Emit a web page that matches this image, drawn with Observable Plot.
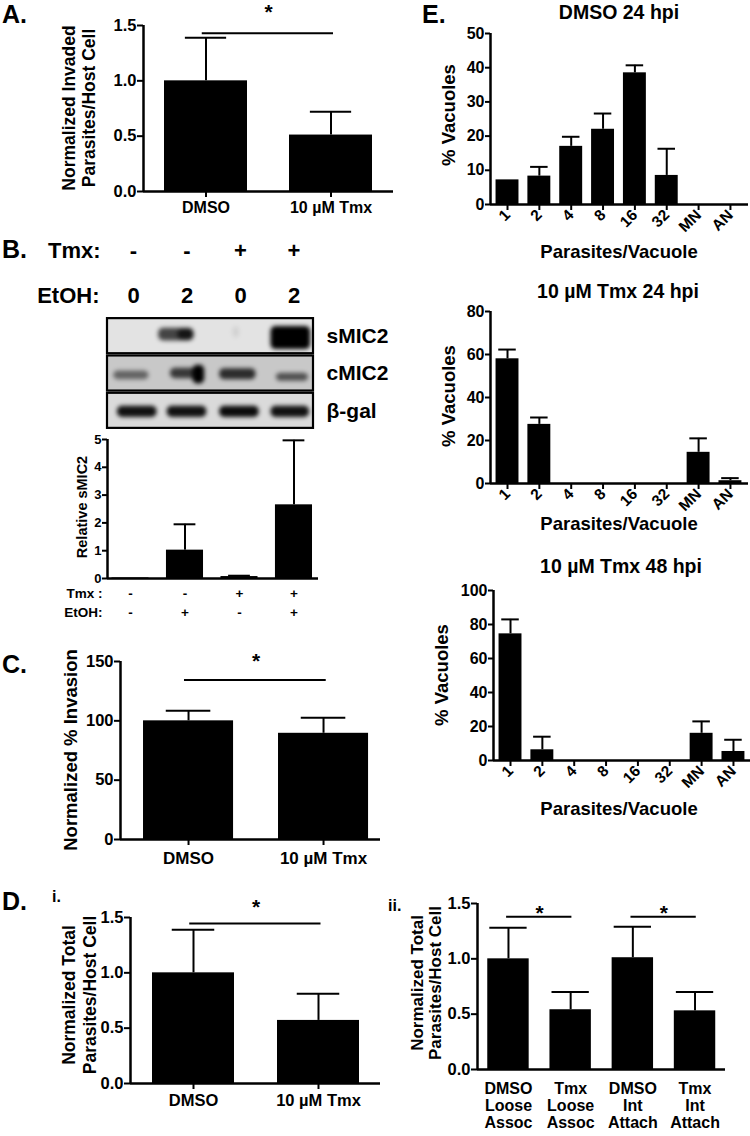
<!DOCTYPE html>
<html><head><meta charset="utf-8">
<script src="https://cdn.jsdelivr.net/npm/d3@7"></script>
<script src="https://cdn.jsdelivr.net/npm/@observablehq/plot@0.6"></script>
<style>
body{margin:0;background:#fff;}
#fig{position:relative;width:750px;height:1136px;overflow:hidden;background:#fff;}
#fig svg{position:absolute;overflow:visible;}
</style></head><body><div id="fig"></div>
<script>
const FONT = '"Liberation Sans", Arial, Helvetica, sans-serif';

// ---------- Panel A ----------
const aCats = ["DMSO", "10 µM Tmx"];
const aMeans = [1.0, 0.51];
const aUpper = [1.39, 0.72];
const aTicks = [0, 0.5, 1.0, 1.5];
const aSig = [{from: 0, to: 1, level: 1.43}];

// ---------- Panel B ----------
const bLanes = [0, 1, 2, 3];
const bTmx = ["-", "-", "+", "+"];
const bEtOH = ["0", "2", "0", "2"];
const bRows = ["sMIC2", "cMIC2", "β-gal"];
const bBands = [
  {row: "sMIC2", lane: 1, shift: -0.2, w: 0.66, h: 0.34, off: -0.04, a: 0.7},
  {row: "sMIC2", lane: 1, shift: -0.02, w: 0.3, h: 0.3, off: -0.04, a: 0.7},
  {row: "sMIC2", lane: 2, shift: -0.08, w: 0.12, h: 0.3, off: -0.1, a: 0.08},
  {row: "sMIC2", lane: 3, shift: -0.06, w: 0.74, h: 0.62, off: 0.05, a: 1},
  {row: "cMIC2", lane: 0, shift: -0.04, w: 0.66, h: 0.24, off: 0.05, a: 0.5},
  {row: "cMIC2", lane: 1, shift: -0.02, w: 0.58, h: 0.28, off: 0.0, a: 0.72},
  {row: "cMIC2", lane: 1, shift: 0.22, w: 0.22, h: 0.5, off: 0.03, a: 1},
  {row: "cMIC2", lane: 2, shift: -0.05, w: 0.68, h: 0.3, off: 0.02, a: 0.78},
  {row: "cMIC2", lane: 3, shift: -0.03, w: 0.6, h: 0.22, off: 0.1, a: 0.6},
  {row: "β-gal", lane: 0, shift: 0.07, w: 0.74, h: 0.3, off: 0.03, a: 0.92},
  {row: "β-gal", lane: 1, shift: 0.0, w: 0.74, h: 0.3, off: 0.03, a: 0.92},
  {row: "β-gal", lane: 2, shift: -0.02, w: 0.74, h: 0.3, off: 0.03, a: 0.95},
  {row: "β-gal", lane: 3, shift: -0.07, w: 0.72, h: 0.3, off: 0.03, a: 0.92}
];
const bRel = [0.02, 1.02, 0.07, 2.65];
const bRelUpper = [0.02, 1.95, 0.1, 4.97];
const bRelTmx = ["-", "-", "+", "+"];
const bRelEtOH = ["-", "+", "-", "+"];
const bTicks = [0, 1, 2, 3, 4, 5];

// ---------- Panel C ----------
const cCats = ["DMSO", "10 µM Tmx"];
const cMeans = [100, 89.5];
const cUpper = [108.5, 102.5];
const cTicks = [0, 50, 100, 150];
const cSig = [{from: 0, to: 1, level: 134.5}];

// ---------- Panel D ----------
const dCats = ["DMSO", "10 µM Tmx"];
const dMeans = [1.0, 0.57];
const dUpper = [1.39, 0.81];
const dTicks = [0, 0.5, 1.0, 1.5];
const dSig = [{from: 0, to: 1, level: 1.445}];
const d2Cats = ["DMSO\nLoose\nAssoc", "Tmx\nLoose\nAssoc", "DMSO\nInt\nAttach", "Tmx\nInt\nAttach"];
const d2Means = [1.0, 0.54, 1.01, 0.53];
const d2Upper = [1.28, 0.70, 1.29, 0.70];
const d2Sig = [{from: 0, to: 1, level: 1.38}, {from: 2, to: 3, level: 1.38}];

// ---------- Panel E ----------
const eCats = ["1", "2", "4", "8", "16", "32", "MN", "AN"];
const e1Means = [7.2, 8.3, 17, 22, 38.5, 8.5, 0, 0];
const e1Upper = [7.2, 11, 19.8, 26.6, 40.7, 16.3, 0, 0];
const e1Ticks = [0, 10, 20, 30, 40, 50];
const e2Means = [58, 27.5, 0, 0, 0, 0, 14.5, 1.3];
const e2Upper = [62.3, 30.7, 0, 0, 0, 0, 21, 2.5];
const e2Ticks = [0, 20, 40, 60, 80];
const e3Means = [74.5, 6.3, 0, 0, 0, 0, 16, 5.3];
const e3Upper = [83, 14, 0, 0, 0, 0, 23, 12.2];
const e3Ticks = [0, 20, 40, 60, 80, 100];

const fig = document.getElementById("fig");
const baseStyle = {fontFamily: FONT, fontWeight: "bold", fontSize: "15px", color: "#000", background: "none", overflow: "visible"};

function place(svg, left, top) {
  svg.style.left = left + "px";
  svg.style.top = top + "px";
  fig.appendChild(svg);
}

function barChart(o) {
  const rows = o.cats.map((c, i) => ({i, c, v: o.means[i], hi: o.upper[i]}));
  const [x0, x1, y0, y1] = o.area;
  const pad = {l: 60, r: 20, t: 40, b: 60};
  const err = rows.filter(d => d.hi > d.v);
  const marks = [
    Plot.rect(rows, {x1: d => d.i - o.barW / 2, x2: d => d.i + o.barW / 2, y1: 0, y2: "v", fill: "#000"}),
    Plot.ruleX(err, {x: "i", y1: "v", y2: "hi", stroke: "#000", strokeWidth: 2}),
    Plot.ruleY(err, {y: "hi", x1: d => d.i - o.capW / 2, x2: d => d.i + o.capW / 2, stroke: "#000", strokeWidth: 2}),
    Plot.ruleX([o.xDomain[0]], {stroke: "#000", strokeWidth: 2.5}),
    Plot.ruleY([0], {stroke: "#000", strokeWidth: 2.5}),
    Plot.axisY({ticks: o.yTicks, tickFormat: o.yFormat, tickSize: o.yTickSize ?? 6, tickPadding: 1,
      fontSize: o.yFont, fontWeight: "bold", strokeWidth: 2, label: null})
  ];
  if (o.xAxis) {
    marks.push(Plot.axisX({ticks: rows.map(d => d.i), tickFormat: i => o.cats[Math.round(i)],
      strokeWidth: 2, fontWeight: "bold", label: null, ...o.xAxis}));
  }
  if (o.sig) {
    marks.push(Plot.ruleY(o.sig, {y: "level", x1: d => d.from - 0.03, x2: d => d.to + 0.02, stroke: "#000", strokeWidth: 2}));
    marks.push(Plot.text(o.sig, {x: d => (d.from + d.to) / 2, y: "level", text: () => "*", fontSize: 21, fontWeight: "bold", dy: o.starDy}));
  }
  if (o.extra) marks.push(...o.extra);
  const H = Math.min(y1 - y0 + pad.t + pad.b, 1136 - (y0 - pad.t));
  const svg = Plot.plot({
    width: x1 - x0 + pad.l + pad.r, height: H,
    marginLeft: pad.l, marginRight: pad.r, marginTop: pad.t, marginBottom: H - (y1 - y0) - pad.t,
    x: {type: "linear", domain: o.xDomain, axis: null},
    y: {type: "linear", domain: o.yDomain, axis: null},
    style: baseStyle,
    marks
  });
  place(svg, x0 - pad.l, y0 - pad.t);
}

const f1 = d3.format(".1f"), fd = d3.format("d");

// A
barChart({cats: aCats, means: aMeans, upper: aUpper, area: [143, 393, 25, 191], xDomain: [-0.5, 1.5], yDomain: [0, 1.5],
  yTicks: aTicks, yFormat: f1, yFont: 16.5, barW: 0.664, capW: 0.33,
  xAxis: {tickSize: 6, tickPadding: 4, fontSize: 16}, sig: aSig, starDy: -21});

// B relative sMIC2
barChart({cats: bLanes.map(String), means: bRel, upper: bRelUpper, area: [107, 318, 439, 578], xDomain: [-0.422, 3.45], yDomain: [0, 5],
  yTicks: bTicks, yFormat: fd, yFont: 13, yTickSize: 5, barW: 0.68, capW: 0.4,
  extra: [
    Plot.text(bRelTmx, {x: (d, i) => i, text: d => d, frameAnchor: "bottom", dy: 19, fontSize: 13.5, fontWeight: "bold"}),
    Plot.text(bRelEtOH, {x: (d, i) => i, text: d => d, frameAnchor: "bottom", dy: 38, fontSize: 13.5, fontWeight: "bold"}),
    Plot.text(["Tmx :"], {frameAnchor: "bottom-left", dx: -5, dy: 19, textAnchor: "end", fontSize: 13.5, fontWeight: "bold"}),
    Plot.text(["EtOH:"], {frameAnchor: "bottom-left", dx: -5, dy: 38, textAnchor: "end", fontSize: 13.5, fontWeight: "bold"})
  ]});

// B blot
(function () {
  const xd = [-0.486, 3.364];
  const rowIdx = r => 2 - bRows.indexOf(r);
  const bg = {"sMIC2": "#e3e3e3", "cMIC2": "#c8c8c8", "β-gal": "#dadada"};
  const svg = Plot.plot({
    width: 420, height: 210, marginLeft: 107, marginRight: 107, marginTop: 87, marginBottom: 11,
    x: {type: "linear", domain: xd, axis: null}, y: {type: "linear", domain: [0, 3], axis: null},
    style: baseStyle,
    marks: [
      Plot.rect(bRows, {x1: xd[0], x2: xd[1], y1: d => rowIdx(d) + 0.03, y2: d => rowIdx(d) + 0.97, fill: d => bg[d]}),
      Plot.rect(bBands, {x1: d => d.lane + d.shift - d.w / 2, x2: d => d.lane + d.shift + d.w / 2,
        y1: d => rowIdx(d.row) + 0.5 - d.off - d.h / 2, y2: d => rowIdx(d.row) + 0.5 - d.off + d.h / 2,
        fill: "#000", fillOpacity: d => d.a, rx: 5}),
      Plot.rect(bRows, {x1: xd[0], x2: xd[1], y1: d => rowIdx(d) + 0.03, y2: d => rowIdx(d) + 0.97, fill: "none", stroke: "#000", strokeWidth: 2.2}),
      Plot.text(bRows, {y: d => rowIdx(d) + 0.5, text: d => d, frameAnchor: "right", dx: 13, textAnchor: "start", fontSize: 21, fontWeight: "bold"}),
      Plot.text(bTmx, {x: (d, i) => i, text: d => d, frameAnchor: "top", dy: -60, lineAnchor: "bottom", fontSize: 22, fontWeight: "bold"}),
      Plot.text(bEtOH, {x: (d, i) => i, text: d => d, frameAnchor: "top", dy: -15, lineAnchor: "bottom", fontSize: 22, fontWeight: "bold"}),
      Plot.text(["Tmx:"], {frameAnchor: "top-left", dx: -7, dy: -60, textAnchor: "end", lineAnchor: "bottom", fontSize: 22, fontWeight: "bold"}),
      Plot.text(["EtOH:"], {frameAnchor: "top-left", dx: -8, dy: -15, textAnchor: "end", lineAnchor: "bottom", fontSize: 22, fontWeight: "bold"})
    ]
  });
  const g = svg.querySelectorAll('g[aria-label="rect"]');
  if (g[1]) g[1].style.filter = "blur(2.2px)";
  place(svg, 0, 230);
})();

// C
barChart({cats: cCats, means: cMeans, upper: cUpper, area: [120, 380, 661, 839], xDomain: [-0.504, 1.422], yDomain: [0, 150],
  yTicks: cTicks, yFormat: fd, yFont: 16.5, barW: 0.667, capW: 0.33,
  xAxis: {tickSize: 6, tickPadding: 6, fontSize: 17}, sig: cSig, starDy: -19});

// D i
barChart({cats: dCats, means: dMeans, upper: dUpper, area: [130, 380, 917, 1083], xDomain: [-0.504, 1.496], yDomain: [0, 1.5],
  yTicks: dTicks, yFormat: f1, yFont: 16.5, barW: 0.656, capW: 0.34,
  xAxis: {tickSize: 6, tickPadding: 4.5, fontSize: 16.5}, sig: dSig, starDy: -16});

// D ii
barChart({cats: d2Cats, means: d2Means, upper: d2Upper, area: [477, 725, 903, 1069], xDomain: [-0.498, 3.49], yDomain: [0, 1.5],
  yTicks: dTicks, yFormat: f1, yFont: 16.5, barW: 0.666, capW: 0.6,
  xAxis: {tickSize: 0, tickPadding: 13, fontSize: 16, lineHeight: 1.05}, sig: d2Sig, starDy: -4});

// E
const eAxis = {tickSize: 6, tickPadding: 2, fontSize: 15.5, tickRotate: -45};
barChart({cats: eCats, means: e1Means, upper: e1Upper, area: [490, 748, 33, 204], xDomain: [-0.534, 7.567], yDomain: [0, 50],
  yTicks: e1Ticks, yFormat: fd, yFont: 16, yTickSize: 5, barW: 0.72, capW: 0.55, xAxis: eAxis});
barChart({cats: eCats, means: e2Means, upper: e2Upper, area: [490, 748, 311, 483], xDomain: [-0.534, 7.567], yDomain: [0, 80],
  yTicks: e2Ticks, yFormat: fd, yFont: 16, yTickSize: 5, barW: 0.72, capW: 0.55, xAxis: eAxis});
barChart({cats: eCats, means: e3Means, upper: e3Upper, area: [493, 750, 590, 760], xDomain: [-0.534, 7.535], yDomain: [0, 100],
  yTicks: e3Ticks, yFormat: fd, yFont: 16, yTickSize: 5, barW: 0.72, capW: 0.55, xAxis: eAxis});

// ---------- free text overlay ----------
const labels = [
  {t: "A.", x: 2, y: 23, s: 25},
  {t: "B.", x: 2, y: 258, s: 25},
  {t: "C.", x: 2, y: 673, s: 25},
  {t: "D.", x: 2, y: 910, s: 25},
  {t: "i.", x: 52, y: 902, s: 16},
  {t: "ii.", x: 388, y: 911, s: 16},
  {t: "E.", x: 422, y: 23, s: 25},
  {t: "DMSO 24 hpi", x: 619, y: 19, s: 19.5, a: "middle"},
  {t: "10 µM Tmx 24 hpi", x: 618, y: 298, s: 19.5, a: "middle"},
  {t: "10 µM Tmx 48 hpi", x: 621, y: 573, s: 19.5, a: "middle"},
  {t: "Parasites/Vacuole", x: 619, y: 258, s: 18.5, a: "middle"},
  {t: "Parasites/Vacuole", x: 619, y: 530, s: 18.5, a: "middle"},
  {t: "Parasites/Vacuole", x: 619, y: 815, s: 18.5, a: "middle"},
  {t: "Normalized Invaded", x: 75, y: 108, s: 17.5, a: "middle", r: true},
  {t: "Parasites/Host Cell", x: 95, y: 108, s: 17.5, a: "middle", r: true},
  {t: "Relative sMIC2", x: 87, y: 507, s: 14.5, a: "middle", r: true},
  {t: "Normalized % Invasion", x: 77, y: 750, s: 18.5, a: "middle", r: true},
  {t: "Normalized Total", x: 75, y: 995, s: 17.5, a: "middle", r: true},
  {t: "Parasites/Host Cell", x: 96, y: 995, s: 17.5, a: "middle", r: true},
  {t: "Normalized Total", x: 423, y: 983, s: 17, a: "middle", r: true},
  {t: "Parasites/Host Cell", x: 441, y: 983, s: 17, a: "middle", r: true},
  {t: "% Vacuoles", x: 455, y: 115, s: 18.5, a: "middle", r: true},
  {t: "% Vacuoles", x: 455, y: 396, s: 18.5, a: "middle", r: true},
  {t: "% Vacuoles", x: 448, y: 675, s: 18.5, a: "middle", r: true}
];
const ov = d3.create("svg").attr("width", 750).attr("height", 1136)
  .style("left", "0px").style("top", "0px")
  .attr("font-family", FONT).attr("font-weight", "bold").attr("fill", "#000");
ov.selectAll("text").data(labels).join("text")
  .attr("transform", d => `translate(${d.x},${d.y})` + (d.r ? " rotate(-90)" : ""))
  .attr("text-anchor", d => d.a || "start")
  .attr("font-size", d => d.s)
  .text(d => d.t);
fig.appendChild(ov.node());
</script></body></html>
